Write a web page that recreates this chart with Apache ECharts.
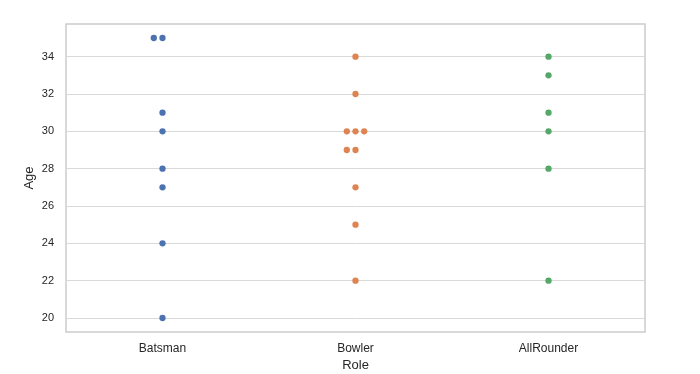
<!DOCTYPE html>
<html>
<head>
<meta charset="utf-8">
<script src="https://cdn.jsdelivr.net/npm/echarts@6/dist/echarts.min.js"></script>
<style>
html,body{margin:0;padding:0;background:#fff;}
#chart{width:700px;height:374px;}
</style>
</head>
<body>
<div id="chart"></div>
<script>
var categories = ['Batsman', 'Bowler', 'AllRounder'];
var batsmanAges = [35, 35, 31, 30, 28, 27, 24, 20];
var bowlerAges = [34, 32, 30, 30, 30, 29, 29, 27, 25, 22];
var allRounderAges = [34, 33, 31, 30, 28, 22];
var yTicks = [20, 22, 24, 26, 28, 30, 32, 34];
var colors = ['#4c72b0', '#dd8452', '#55a868'];

var groups = [batsmanAges, bowlerAges, allRounderAges];
var STEP = 8.7; // horizontal swarm spacing in px
var order = [0, -1, 1, -2, 2, -3, 3];

function swarm(ages, catIdx) {
  var seen = {};
  return ages.map(function (v) {
    var k = seen[v] || 0;
    seen[v] = k + 1;
    return { value: [catIdx, v], symbolOffset: [order[k] * STEP, 0] };
  });
}

var series = groups.map(function (ages, i) {
  return {
    type: 'scatter',
    name: categories[i],
    data: swarm(ages, i),
    symbol: 'circle',
    symbolSize: 6.3,
    itemStyle: { color: colors[i], opacity: 1 },
    emphasis: { disabled: true }
  };
});

var chart = echarts.init(document.getElementById('chart'), null, { renderer: 'canvas' });
chart.setOption({
  animation: false,
  backgroundColor: '#ffffff',
  textStyle: { fontFamily: 'Liberation Sans, Arial, sans-serif' },
  grid: {
    left: 66, right: 55, top: 24, bottom: 42,
    containLabel: false,
    outerBoundsMode: 'none',
    show: true, borderColor: '#cccccc', borderWidth: 1.5, backgroundColor: '#ffffff'
  },
  xAxis: {
    type: 'category',
    data: categories,
    boundaryGap: true,
    name: 'Role',
    nameLocation: 'middle',
    nameGap: 27,
    nameMoveOverlap: false,
    nameTextStyle: { fontSize: 13, color: '#262626', fontFamily: 'Liberation Sans, Arial, sans-serif' },
    axisLine: { show: false },
    axisTick: { show: false },
    splitLine: { show: false },
    axisLabel: { fontSize: 12, color: '#262626', margin: 11, fontFamily: 'Liberation Sans, Arial, sans-serif' }
  },
  yAxis: {
    type: 'value',
    min: 19.25,
    max: 35.75,
    name: 'Age',
    nameLocation: 'middle',
    nameGap: 30,
    nameMoveOverlap: false,
    nameRotate: 90,
    nameTextStyle: { fontSize: 13, color: '#262626', fontFamily: 'Liberation Sans, Arial, sans-serif' },
    axisLine: { show: false },
    axisTick: { show: false, customValues: yTicks },
    axisLabel: { customValues: yTicks, fontSize: 11, color: '#262626', margin: 12, fontFamily: 'Liberation Sans, Arial, sans-serif' },
    splitLine: { show: true, lineStyle: { color: '#d9d9d9', width: 1 } }
  },
  series: series
});
</script>
</body>
</html>
